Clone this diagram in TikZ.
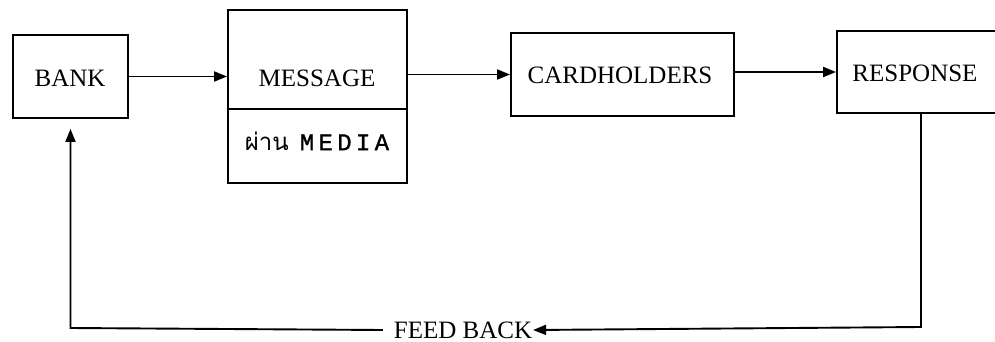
\documentclass[tikz,border=0pt]{standalone}
\usepackage{fontspec}
\setmainfont{Liberation Serif}
\newfontfamily\thaifont[Script=Thai]{Loma}
\newfontfamily\mediafont[LetterSpace=18,FakeBold=1.2]{Liberation Mono}
\usetikzlibrary{arrows.meta}
\begin{document}
\begin{tikzpicture}[x=1pt,y=-1pt,
  line width=1.9pt,
  boxstyle/.style={draw,rectangle,minimum width=#1,inner sep=0pt},
  lbl/.style={font=\fontsize{25}{28}\selectfont,inner sep=0pt},
  arr/.style={-{Triangle[length=13pt,width=10pt]}}]
\useasboundingbox (0,0) rectangle (995,342);
\clip (0,0) rectangle (995,342);
\node[boxstyle=115pt,minimum height=83pt] (bank) at (70.5,76.5) {};
\node[lbl] (banktxt) at (70,78) {BANK};
\node[boxstyle=179pt,minimum height=173pt] (msg) at (317.5,96.5) {};
\coordinate (divl) at (228,109);
\coordinate (divr) at (407,109);
\draw (divl) -- (divr);
\node[lbl] (msgtxt) at (317,78) {MESSAGE};
\node[inner sep=0pt] (media) at (317,141) {{\thaifont\fontsize{24}{26}\selectfont ผ่าน}\hspace{11pt}{\mediafont\fontsize{24}{26}\selectfont MEDIA}};
\node[boxstyle=223pt,minimum height=83pt] (card) at (622.5,74.5) {};
\node[lbl] (cardtxt) at (620,75) {CARDHOLDERS};
\node[boxstyle=168pt,minimum height=82pt] (resp) at (921,72) {};
\node[lbl] (resptxt) at (915,73) {RESPONSE};
\node[lbl] (fb) at (463,330) {FEED BACK};
\coordinate (br) at (921,327);
\coordinate (bl) at (70.5,328);
\draw[arr] (bank.east) -- (bank.east -| msg.west);
\draw[arr] (card.west -| msg.east) -- (card.west);
\draw[arr] (resp.west -| card.east) -- (resp.west);
\draw[arr] (resp.south) -- (br) -- (fb.east);
\draw[arr,shorten >=10pt] ([xshift=-10pt]fb.west) -- (bl) -- (bank.south);
\end{tikzpicture}
\end{document}
